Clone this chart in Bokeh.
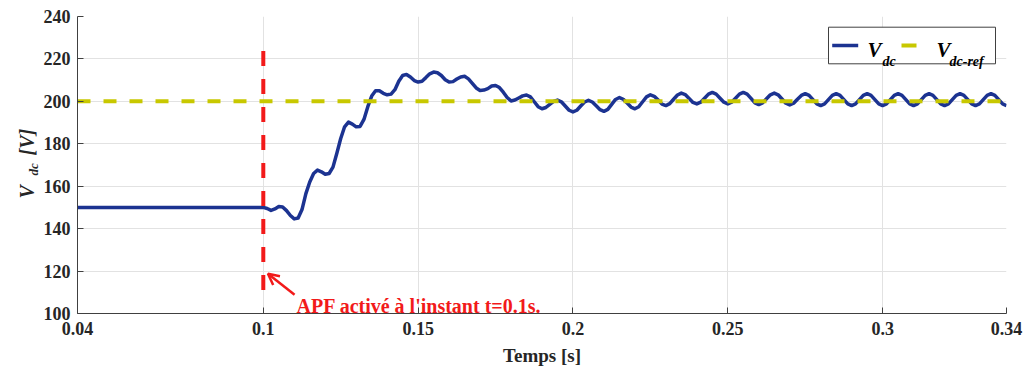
import numpy as np
from bokeh.plotting import figure
from bokeh.layouts import row
from bokeh.models import Range1d, FixedTicker, Label, Arrow, OpenHead, BoxAnnotation
from bokeh.embed import file_html
from bokeh.resources import INLINE

# ---------------------------------------------------------------- data ----
# DC-link voltage before the active power filter is switched on
t_before = [0.04, 0.1]
vdc_before = [150.0, 150.0]

# DC-link voltage after switch-on, one sample every 1.25 ms from t = 0.1 s
t_switch_on = 0.1
sample_step = 0.00125
vdc_after = [
    # transient
    150.0, 149.5, 148.6, 149.3, 150.4, 150.2, 148.5, 146.2, 144.6, 145.0,
    149.0, 156.5, 162.0, 166.0, 167.6, 166.8, 165.6, 166.0, 169.0, 175.5,
    182.5, 188.0, 190.2, 189.3, 188.0, 188.2, 191.5, 197.5, 202.5, 205.0,
    205.0, 203.8, 203.1, 203.4, 205.5, 209.5, 212.2, 212.7, 211.5, 209.8,
    209.1, 209.5, 211.2, 213.0, 213.8, 213.5, 212.2, 210.2, 209.1, 209.3,
    210.5, 211.5, 211.8, 210.6, 208.5, 206.3, 205.1, 205.3, 206.0, 207.2,
    207.5, 206.5, 204.3, 201.8, 200.2,
    # settling with 100 Hz ripple
    200.6, 201.6, 202.6, 203.0, 202.1, 199.8, 197.5, 196.5,
    197.1, 198.6, 200.0, 200.6, 199.8, 197.8, 195.8, 195.0,
    195.8, 197.8, 199.7, 200.5, 199.7, 197.9, 196.1, 195.3,
    196.2, 198.6, 200.9, 201.8, 201.0, 199.2, 197.3, 196.5,
    197.5, 199.8, 202.1, 203.1, 202.4, 200.6, 198.7, 198.0,
    198.9, 201.0, 203.0, 203.9, 203.2, 201.4, 199.5, 198.8,
    199.6, 201.5, 203.4, 204.2, 203.4, 201.5, 199.6, 198.8,
    199.6, 201.5, 203.4, 204.2, 203.4, 201.4, 199.3, 198.5,
    199.3, 201.2, 203.1, 203.9, 203.1, 201.1, 199.1, 198.3,
    199.1, 201.0, 202.8, 203.6, 202.8, 200.8, 198.8, 198.0,
    # steady state
    198.8, 200.8, 202.8, 203.6, 202.8, 200.8, 198.8, 198.0,
    198.8, 200.8, 202.8, 203.6, 202.8, 200.8, 198.8, 198.0,
    198.8, 200.8, 202.8, 203.6, 202.8, 200.8, 198.8, 198.0,
    198.8, 200.8, 202.8, 203.6, 202.8, 200.8, 198.8, 198.0,
    198.8, 200.8, 202.8, 203.6, 202.8, 200.8, 198.8, 198.0,
    198.8, 200.8, 202.8, 203.6, 202.8, 200.8, 198.8, 198.0,
]

vdc_ref_level = 200.0
t_limits = [0.04, 0.34]
v_limits = [100, 240]
marker_span = [110.8, 223.7]

x_ticks = [0.04, 0.1, 0.15, 0.2, 0.25, 0.3, 0.34]
x_tick_labels = ["0.04", "0.1", "0.15", "0.2", "0.25", "0.3", "0.34"]
y_ticks = [100, 120, 140, 160, 180, 200, 220, 240]

# ---------------------------------------------------------------- style ---
FONT = "Liberation Serif"
INK = "#262626"
BLUE = "#1c3391"
OLIVE = "#c8c800"
RED = "#f21a1a"
TITLE_W = 40          # strip holding the vertical y title
HEIGHT = 371

t_after = t_switch_on + sample_step * np.arange(len(vdc_after))
t_all = np.concatenate([t_before, t_after[1:]])
v_all = np.concatenate([vdc_before, vdc_after[1:]])

p = figure(width=1027 - TITLE_W, height=HEIGHT, output_backend="svg",
           toolbar_location=None,
           x_range=Range1d(*t_limits), y_range=Range1d(*v_limits),
           min_border_left=76 - TITLE_W, min_border_right=21,
           min_border_top=16, min_border_bottom=58)
p.outline_line_color = None
p.background_fill_color = "white"
p.border_fill_color = "white"

# axes
p.xaxis.ticker = FixedTicker(ticks=x_ticks)
p.xaxis.major_label_overrides = {t: s for t, s in zip(x_ticks, x_tick_labels)}
p.yaxis.ticker = FixedTicker(ticks=y_ticks)
p.xgrid.ticker = FixedTicker(ticks=x_ticks)
p.ygrid.ticker = FixedTicker(ticks=y_ticks)
p.grid.grid_line_color = "#e2e2e2"
p.grid.grid_line_width = 1

for ax in (p.xaxis, p.yaxis):
    ax.axis_line_color = "#404040"
    ax.axis_line_width = 1
    ax.major_tick_line_color = "#404040"
    ax.major_tick_in = 6
    ax.major_tick_out = 0
    ax.minor_tick_line_color = None
    ax.major_label_text_font = FONT
    ax.major_label_text_font_style = "bold"
    ax.major_label_text_font_size = "18px"
    ax.major_label_text_color = INK
p.xaxis.major_label_standoff = 8
p.yaxis.major_label_standoff = 7

p.xaxis.axis_label = "Temps [s]"
p.xaxis.axis_label_text_font = FONT
p.xaxis.axis_label_text_font_style = "bold"
p.xaxis.axis_label_text_font_size = "19px"
p.xaxis.axis_label_text_color = INK
p.xaxis.axis_label_standoff = 7

# measured DC-link voltage
p.line(t_all, v_all, line_color=BLUE, line_width=3.5, line_join="round")

# reference voltage
p.line(t_limits, [vdc_ref_level, vdc_ref_level], line_color=OLIVE,
       line_width=4, line_dash="13 13")

# switch-on instant
p.line([t_switch_on, t_switch_on], [marker_span[1], marker_span[0]],
       line_color=RED, line_width=4, line_dash="15 13")

p.add_layout(Arrow(end=OpenHead(size=11, line_color=RED, line_width=2.5),
                   x_start=0.1101, y_start=108.8, x_end=0.1015, y_end=118.7,
                   line_color=RED, line_width=2.5))
p.add_layout(Label(x=219, y=8, x_units="screen", y_units="screen",
                   text="APF activé à l'instant t=0.1s.", text_font=FONT,
                   text_font_style="bold", text_font_size="20px",
                   text_color=RED, text_baseline="alphabetic"))

# legend
p.add_layout(BoxAnnotation(left=751, right=918, top=286.3, bottom=249.7,
                           left_units="screen", right_units="screen",
                           top_units="screen", bottom_units="screen",
                           fill_color="white", fill_alpha=1.0,
                           line_color="#404040", line_width=1, line_alpha=1.0))
p.add_layout(Arrow(end=None, x_start=754.7, y_start=268, x_end=780.7, y_end=268,
                   start_units="screen", end_units="screen",
                   line_color=BLUE, line_width=3.5))
p.add_layout(Arrow(end=None, x_start=824, y_start=268, x_end=839, y_end=268,
                   start_units="screen", end_units="screen",
                   line_color=OLIVE, line_width=4))


def legend_text(text, x, y, size):
    p.add_layout(Label(x=x, y=y, x_units="screen", y_units="screen", text=text,
                       text_font=FONT, text_font_style="bold italic",
                       text_font_size=size, text_color="black",
                       text_baseline="alphabetic"))

legend_text("V", 790, 263.7, "21px")
legend_text("dc", 805, 252, "14px")
legend_text("V", 859, 263.7, "21px")
legend_text("dc-ref", 872, 252, "14px")

# vertical y title with subscript, drawn in its own narrow strip whose
# frame lines up with the main plot frame (bottom edge = 0)
ytitle = figure(width=TITLE_W, height=HEIGHT, output_backend="svg",
                toolbar_location=None, x_axis_type=None, y_axis_type=None,
                x_range=Range1d(0, 1), y_range=Range1d(0, 1), min_border=0)
ytitle.outline_line_color = None
ytitle.grid.visible = False
ytitle.background_fill_color = "white"
ytitle.border_fill_color = "white"


def ylabel_part(text, x, y, size):
    ytitle.add_layout(Label(x=x, y=y, x_units="screen", y_units="screen",
                            text=text, angle=np.pi / 2, text_font=FONT,
                            text_font_style="bold italic", text_font_size=size,
                            text_color=INK, text_baseline="alphabetic",
                            text_align="left"))

ylabel_part("V", 26, 115, "20px")
ylabel_part("dc", 33, 138, "13px")
ylabel_part("[V]", 26, 158, "20px")

layout = row(ytitle, p, spacing=0)
open("out.html", "w").write(file_html(layout, INLINE))
